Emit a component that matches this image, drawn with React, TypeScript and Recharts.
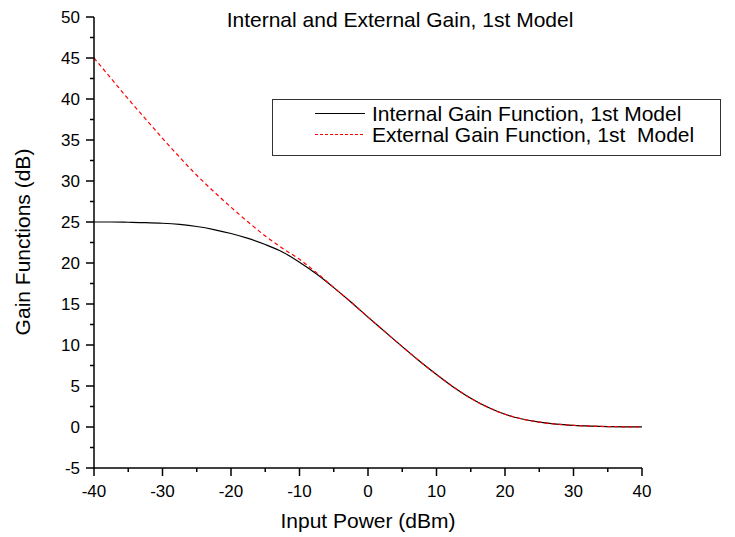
import React from 'react';
import { LineChart, Line, XAxis, YAxis } from 'recharts';

const inputPower = [
  -40, -37.5, -35, -32.5, -30, -27.5, -25, -22.5, -20, -17.5, -15, -12.5, -10, -7.5, -5, -2.5,
  0, 2.5, 5, 7.5, 10, 12.5, 15, 17.5, 20, 22.5, 25, 27.5, 30, 32.5, 35, 37.5, 40,
];
const internalGain = [
  25.0, 25.0, 24.97, 24.93, 24.85, 24.7, 24.45, 24.08, 23.6, 23.0, 22.25, 21.35, 20.1, 18.65, 17.0, 15.25,
  13.4, 11.6, 9.8, 8.05, 6.4, 4.85, 3.5, 2.4, 1.55, 0.98, 0.6, 0.35, 0.2, 0.11, 0.05, 0.02, 0.01,
];
const externalGain = [
  45.0, 42.5, 40.0, 37.6, 35.2, 32.9, 30.7, 28.7, 26.8, 25.0, 23.3, 21.8, 20.45, 18.8, 17.02, 15.25,
  13.4, 11.6, 9.8, 8.05, 6.4, 4.85, 3.5, 2.4, 1.55, 0.98, 0.6, 0.35, 0.2, 0.11, 0.05, 0.02, 0.01,
];

const xMajorTicks = [-40, -30, -20, -10, 0, 10, 20, 30, 40];
const xMinorTicks = [-35, -25, -15, -5, 5, 15, 25, 35];
const yMajorTicks = [-5, 0, 5, 10, 15, 20, 25, 30, 35, 40, 45, 50];
const yMinorTicks = [-2.5, 2.5, 7.5, 12.5, 17.5, 22.5, 27.5, 32.5, 37.5, 42.5, 47.5];

const titleText = 'Internal and External Gain, 1st Model';
const xLabelText = 'Input Power (dBm)';
const yLabelText = 'Gain Functions (dB)';
const internalName = 'Internal Gain Function, 1st Model';
const externalName = 'External Gain Function, 1st  Model';

const data = inputPower.map((p, i) => ({ p, internal: internalGain[i], external: externalGain[i] }));

const FONT = '"Liberation Sans", Arial, sans-serif';

const XTick = (props: any) => {
  const { x, y, payload } = props;
  const major = xMajorTicks.includes(payload.value);
  return (
    <g>
      <line x1={x} x2={x} y1={y} y2={y + (major ? 8 : 4)} stroke="#000" strokeWidth={1.5} />
      {major && (
        <text x={x} y={y + 29} textAnchor="middle" fontSize={17} fontFamily={FONT} fill="#000">
          {payload.value}
        </text>
      )}
    </g>
  );
};

const YTick = (props: any) => {
  const { x, y, payload } = props;
  const major = yMajorTicks.includes(payload.value);
  return (
    <g>
      <line x1={x} x2={x - (major ? 8 : 4)} y1={y} y2={y} stroke="#000" strokeWidth={1.5} />
      {major && (
        <text x={x - 14} y={y + 6} textAnchor="end" fontSize={17} fontFamily={FONT} fill="#000">
          {payload.value}
        </text>
      )}
    </g>
  );
};

export default function App() {
  const xTicks = [...xMajorTicks, ...xMinorTicks].sort((a, b) => a - b);
  const yTicks = [...yMajorTicks, ...yMinorTicks].sort((a, b) => a - b);
  return (
    <div style={{ position: 'absolute', left: 0, top: 0, width: 735, height: 537, background: '#fff' }}>
      <LineChart
        width={735}
        height={537}
        data={data}
        margin={{ top: 17, right: 93, left: 34, bottom: 29 }}
      >
        <XAxis
          dataKey="p"
          type="number"
          domain={[-40, 40]}
          ticks={xTicks}
          interval={0}
          tickSize={0}
          tickMargin={0}
          tickLine={false}
          tick={<XTick />}
          height={40}
          axisLine={{ stroke: '#000', strokeWidth: 1.5 }}
          allowDataOverflow
        />
        <YAxis
          type="number"
          domain={[-5, 50]}
          ticks={yTicks}
          interval={0}
          tickSize={0}
          tickMargin={0}
          tickLine={false}
          tick={<YTick />}
          width={60}
          axisLine={{ stroke: '#000', strokeWidth: 1.5 }}
          allowDataOverflow
        />
        <Line
          type="monotone"
          dataKey="internal"
          name={internalName}
          stroke="#000"
          strokeWidth={1.2}
          dot={false}
          isAnimationActive={false}
        />
        <Line
          type="monotone"
          dataKey="external"
          name={externalName}
          stroke="#ff0000"
          strokeWidth={1.2}
          strokeDasharray="4 3"
          dot={false}
          isAnimationActive={false}
        />
      </LineChart>
      <svg
        width={735}
        height={537}
        style={{ position: 'absolute', left: 0, top: 0, pointerEvents: 'none' }}
      >
        <text x={400} y={27} textAnchor="middle" fontSize={21} fontFamily={FONT} fill="#000">
          {titleText}
        </text>
        <text x={368} y={528} textAnchor="middle" fontSize={21} fontFamily={FONT} fill="#000">
          {xLabelText}
        </text>
        <text
          x={30}
          y={242}
          textAnchor="middle"
          fontSize={21}
          fontFamily={FONT}
          fill="#000"
          transform="rotate(-90, 30, 242)"
        >
          {yLabelText}
        </text>
        <rect x={272.5} y={99.5} width={448} height={56} fill="#fff" stroke="#333" strokeWidth={1} />
        <line x1={315} x2={365} y1={113.5} y2={113.5} stroke="#000" strokeWidth={1.2} />
        <text x={372} y={120.5} fontSize={21} fontFamily={FONT} fill="#000" style={{ whiteSpace: 'pre' }}>
          {internalName}
        </text>
        <line x1={315} x2={365} y1={134.5} y2={134.5} stroke="#ff0000" strokeWidth={1.2} strokeDasharray="3 2" />
        <text x={372} y={142} fontSize={21} fontFamily={FONT} fill="#000" style={{ whiteSpace: 'pre' }}>
          {externalName}
        </text>
      </svg>
    </div>
  );
}
